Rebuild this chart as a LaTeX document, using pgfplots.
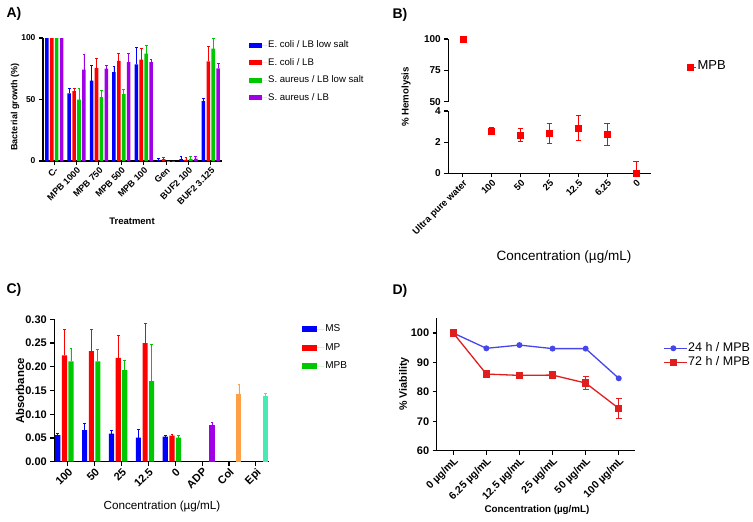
\documentclass[border=0pt]{standalone}
\usepackage{fontspec}
\setmainfont{Liberation Sans}
\usepackage{pgfplots}
\pgfplotsset{compat=1.18}

\definecolor{cblue}{RGB}{0,0,255}
\definecolor{cred}{RGB}{255,0,0}
\definecolor{cgreen}{RGB}{0,200,0}
\definecolor{cpurple}{RGB}{160,0,230}
\definecolor{corange}{RGB}{255,160,70}
\definecolor{ccyan}{RGB}{70,235,180}
\definecolor{lblue}{RGB}{70,70,235}
\definecolor{lred}{RGB}{225,30,30}

\newcommand{\fsz}[1]{\fontsize{#1}{#1}\selectfont}

\pgfplotsset{
  panel/.style={
    scale only axis, clip=false,
    axis lines=left,
    axis line style={line width=1.2pt, -},
    xtick align=outside, ytick align=outside,
    major tick length=4pt,
    tick style={black, line width=1.1pt},
    /pgf/number format/assume math mode=true,
    legend cell align=left,
    legend style={draw=none, fill=none, inner sep=0pt,
      nodes={inner sep=1pt, text height=7.5pt, text depth=2.5pt}},
  },
  % bars placed at their own x (group position + offset), one-sided error bars
  bars/.style 2 args={ybar, draw=none, fill=#1, bar width=#2, bar shift=0pt,
    error bars/.cd, y dir=plus, y explicit,
    error bar style={#1, line width=0.8pt},
    error mark options={#1, rotate=90, line width=0.8pt, mark size=1.4pt},
    /pgfplots/.cd},
}

\begin{document}
\begin{tikzpicture}
\path[use as bounding box] (0pt,0pt) rectangle (753pt,-522pt);

% ---------------- A) bacterial growth
\begin{axis}[panel, at={(43pt,-161pt)}, anchor=south west,
    width=179pt, height=123pt,
    xmin=-0.5, xmax=7.5, ymin=0, ymax=100,
    ytick={0,50,100}, xtick={0,...,7},
    xticklabels={C-, MPB 1000, MPB 750, MPB 500, MPB 100, Gen, BUF2 100, BUF2 3.125},
    xticklabel style={rotate=45, anchor=north east, font=\bfseries\fsz{9}, inner sep=1pt},
    yticklabel style={font=\bfseries\fsz{8.5}},
    legend style={at={(axis description cs:1.147,0.99)}, anchor=north west,
      font=\fsz{9.6}, row sep=5.5pt},
    legend image code/.code={\fill[#1] (0pt,-2.5pt) rectangle (13pt,2.5pt);
      \path (0pt,0pt) -- (18.6pt,0pt);},
  ]
\addplot[bars={cblue}{0.16}] coordinates {
  (-0.33,100) +- (0,0) (0.67,55) +- (0,4) (1.67,65.4) +- (0,12.2) (2.67,72.2) +- (0,4.6)
  (3.67,78.6) +- (0,14.1) (4.67,1) +- (0,1) (5.67,1.5) +- (0,2) (6.67,48.6) +- (0,2.2)};
\addlegendentry{E. coli / LB low salt}
\addplot[bars={cred}{0.16}] coordinates {
  (-0.11,100) +- (0,0) (0.89,56.8) +- (0,2.1) (1.89,75.7) +- (0,7.5) (2.89,81.4) +- (0,6.2)
  (3.89,82.4) +- (0,9.2) (4.89,1.5) +- (0,1.5) (5.89,1) +- (0,2) (6.89,81) +- (0,12.2)};
\addlegendentry{E. coli / LB}
\addplot[bars={cgreen}{0.16}] coordinates {
  (0.11,100) +- (0,0) (1.11,50) +- (0,8.9) (2.11,51.9) +- (0,5.1) (3.11,54.3) +- (0,4.1)
  (4.11,87.3) +- (0,6.7) (5.11,0) +- (0,0) (6.11,1.5) +- (0,2) (7.11,91.4) +- (0,8.6)};
\addlegendentry{S. aureus / LB low salt}
\addplot[bars={cpurple}{0.16}] coordinates {
  (0.33,100) +- (0,0) (1.33,74.3) +- (0,12.2) (2.33,75.1) +- (0,3) (3.33,80.3) +- (0,7.3)
  (4.33,80.3) +- (0,2.1) (5.33,0) +- (0,0) (6.33,2) +- (0,2) (7.33,75.4) +- (0,3.6)};
\addlegendentry{S. aureus / LB}
\end{axis}

% ---------------- B) hemolysis, broken y axis: upper part
\begin{axis}[panel, axis x line=none, at={(448.3pt,-101.7pt)}, anchor=south west,
    width=202.3pt, height=62.7pt,
    xmin=-0.5, xmax=6.5, ymin=50, ymax=100, ytick={50,75,100},
    yticklabel style={font=\bfseries\fsz{10}},
    legend style={at={(axis description cs:1.178,0.558)}, anchor=west, font=\fsz{13},
      nodes={text height=9pt, text depth=3pt}},
    legend image code/.code={\draw[#1] plot coordinates {(3pt,0pt)};
      \path (0pt,0pt) -- (9.3pt,0pt);},
  ]
\addplot[only marks, mark=square*, cred, mark size=3pt] coordinates {(0,100)};
\addlegendentry{MPB}
\end{axis}
% lower part
\begin{axis}[panel, at={(448.3pt,-173.3pt)}, anchor=south west,
    width=202.3pt, height=62.3pt,
    xmin=-0.5, xmax=6.5, ymin=0, ymax=4, ytick={0,2,4}, xtick={0,...,6},
    xticklabels={Ultra pure water, 100, 50, 25, 12.5, 6.25, 0},
    xticklabel style={rotate=45, anchor=north east, font=\bfseries\fsz{9.5}, inner sep=1pt},
    yticklabel style={font=\bfseries\fsz{10}},
  ]
\addplot[only marks, mark=square*, cred, mark size=3pt,
    error bars/.cd, y dir=both, y explicit,
    error bar style={cred, line width=1pt},
    error mark options={cred, rotate=90, line width=1pt, mark size=2.8pt}] coordinates {
  (1,2.73) +- (0,0.22) (2,2.43) +- (0,0.42) (3,2.56) +- (0,0.62)
  (4,2.92) +- (0,0.79) (5,2.5) +- (0,0.7)};
\addplot[only marks, mark=square*, cred, mark size=3pt,
    error bars/.cd, y dir=plus, y explicit,
    error bar style={cred, line width=1pt},
    error mark options={cred, rotate=90, line width=1pt, mark size=2.8pt}] coordinates {
  (6,0) +- (0,0.74)};
\end{axis}

% ---------------- C) absorbance
\begin{axis}[panel, at={(54.3pt,-461.7pt)}, anchor=south west,
    width=215pt, height=142.4pt,
    xmin=-0.5, xmax=7.5, ymin=0, ymax=0.3,
    ytick={0,0.05,0.1,0.15,0.2,0.25,0.3}, xtick={0,...,7},
    xticklabels={100, 50, 25, 12.5, 0, ADP, Col, Epi},
    xticklabel style={rotate=45, anchor=north east, font=\bfseries\fsz{11}, inner sep=1pt},
    yticklabel style={font=\bfseries\fsz{11},
      /pgf/number format/.cd, fixed, fixed zerofill, precision=2},
    legend style={at={(axis description cs:1.151,0.973)}, anchor=north west,
      font=\fsz{10}, row sep=6.5pt},
    legend image code/.code={\fill[#1] (0pt,-3pt) rectangle (15pt,3pt);
      \path (0pt,0pt) -- (22.3pt,0pt);},
  ]
\addplot[bars={cblue}{0.19}] coordinates {
  (-0.37,0.056) +- (0,0.004) (0.63,0.0667) +- (0,0.015) (1.63,0.059) +- (0,0.0077)
  (2.63,0.0506) +- (0,0.018) (3.63,0.0527) +- (0,0.0023)};
\addlegendentry{MS}
\addplot[bars={cred}{0.19}] coordinates {
  (-0.12,0.224) +- (0,0.054) (0.88,0.233) +- (0,0.045) (1.88,0.219) +- (0,0.047)
  (2.88,0.25) +- (0,0.042) (3.88,0.055) +- (0,0.002)};
\addlegendentry{MP}
\addplot[bars={cgreen}{0.19}] coordinates {
  (0.12,0.2115) +- (0,0.0275) (1.12,0.2115) +- (0,0.0245) (2.12,0.193) +- (0,0.021)
  (3.12,0.17) +- (0,0.077) (4.12,0.0506) +- (0,0.0044)};
\addlegendentry{MPB}
\addplot[bars={cpurple}{0.19}, forget plot] coordinates {(5.37,0.0766) +- (0,0.0054)};
\addplot[bars={corange}{0.19}, forget plot] coordinates {(6.37,0.142) +- (0,0.021)};
\addplot[bars={ccyan}{0.19}, forget plot] coordinates {(7.37,0.138) +- (0,0.0054)};
\end{axis}

% ---------------- D) viability
\begin{axis}[panel, at={(436.7pt,-450.7pt)}, anchor=south west,
    width=198.6pt, height=132.4pt,
    xmin=-0.5, xmax=5.5, ymin=60, ymax=105,
    ytick={60,70,80,90,100}, xtick={0,...,5},
    xticklabels={0 µg/mL, 6.25 µg/mL, 12.5 µg/mL, 25 µg/mL, 50 µg/mL, 100 µg/mL},
    xticklabel style={rotate=45, anchor=north east, font=\bfseries\fsz{10.5}, inner sep=1pt},
    yticklabel style={font=\bfseries\fsz{11}},
    legend style={at={(axis description cs:1.141,0.828)}, anchor=north west,
      font=\fsz{12.5}, row sep=0.3pt, nodes={text height=9pt, text depth=3pt}},
    legend image code/.code={\draw[#1, mark repeat=2, mark phase=2]
      plot coordinates {(0pt,0pt) (9.2pt,0pt) (18.4pt,0pt)};
      \path (0pt,0pt) -- (22.4pt,0pt);},
  ]
\addplot[lblue, line width=1.3pt, mark=*, mark size=2.3pt, mark options={fill=lblue}]
  coordinates {(0,100) (1,94.8) (2,95.9) (3,94.7) (4,94.7) (5,84.6)};
\addlegendentry{24 h / MPB}
\addplot[lred, line width=1.3pt, mark=square*, mark size=3pt, mark options={fill=lred},
    error bars/.cd, y dir=both, y explicit,
    error bar style={lred, line width=1pt},
    error mark options={lred, rotate=90, line width=1pt, mark size=3pt}]
  coordinates {(0,100) +- (0,0) (1,86.05) +- (0,0) (2,85.6) +- (0,0) (3,85.7) +- (0,0)
    (4,83.0) +- (0,2.1) (5,74.4) +- (0,3.5)};
\addlegendentry{72 h / MPB}
\end{axis}

% ---------------- panel letters and axis titles
\node[anchor=base west, font=\bfseries\fsz{14}] at (3pt,-17pt) {A)};
\node[anchor=base west, font=\bfseries\fsz{14}] at (389pt,-18pt) {B)};
\node[anchor=base west, font=\bfseries\fsz{14}] at (3pt,-293pt) {C)};
\node[anchor=base west, font=\bfseries\fsz{14}] at (389pt,-294pt) {D)};

\node[rotate=90, font=\bfseries\fsz{9}] at (15pt,-107pt) {Bacterial growth (\%)};
\node[font=\bfseries\fsz{9.5}] at (132pt,-221pt) {Treatment};
\node[rotate=90, font=\bfseries\fsz{9.7}] at (406pt,-97pt) {\% Hemolysis};
\node[font=\fsz{13.5}] at (564pt,-257pt) {Concentration (µg/mL)};
\node[rotate=90, font=\bfseries\fsz{11.4}] at (20pt,-391pt) {Absorbance};
\node[font=\fsz{11.7}] at (162pt,-506pt) {Concentration (µg/mL)};
\node[rotate=90, font=\bfseries\fsz{10.7}] at (404pt,-384pt) {\% Viability};
\node[font=\bfseries\fsz{9.8}] at (537pt,-510pt) {Concentration (µg/mL)};
\end{tikzpicture}
\end{document}
